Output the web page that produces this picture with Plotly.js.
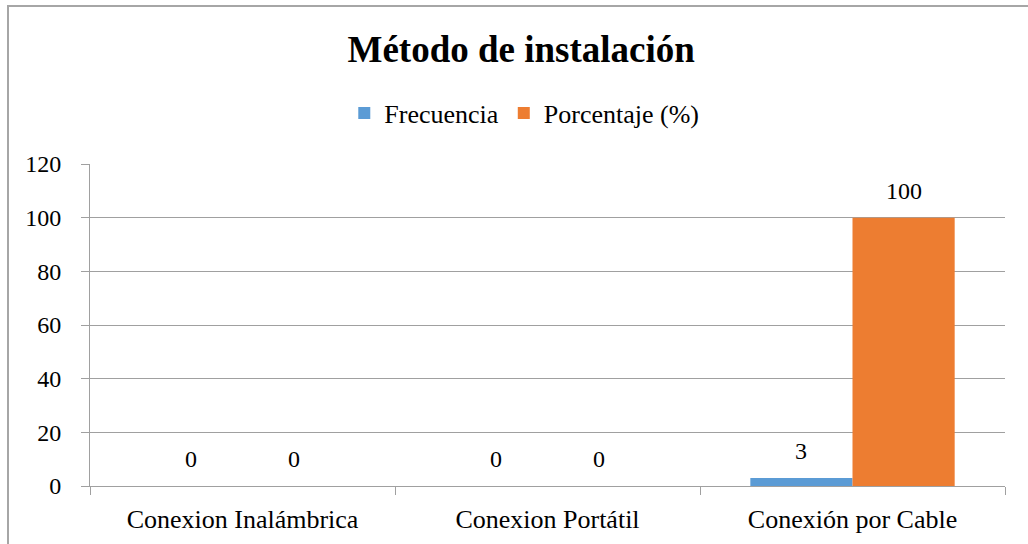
<!DOCTYPE html>
<html>
<head>
<meta charset="utf-8">
<script src="https://cdn.plot.ly/plotly-3.0.1.min.js"></script>
<style>
html,body{margin:0;padding:0;background:#fff;}
#wrap{position:relative;width:1028px;height:544px;overflow:hidden;}
#chart{width:1028px;height:544px;}
#frame{position:absolute;left:7px;top:5px;width:1040px;height:560px;border:2px solid #A6A6A6;pointer-events:none;}
</style>
</head>
<body>
<div id="wrap"><div id="chart"></div><div id="frame"></div></div>
<script>
const categories = ["Conexion Inalámbrica", "Conexion Portátil", "Conexión por Cable"];
const frecuencia = [0, 0, 3];
const porcentaje = [0, 0, 100];
const seriesNames = ["Frecuencia", "Porcentaje (%)"];
const yTicks = [0, 20, 40, 60, 80, 100, 120];

const font = "'Liberation Serif', 'Times New Roman', Times, serif";
const colors = ["#5B9BD5", "#ED7D31"];
const W = 1028, H = 544;
const margin = {l: 90, r: 23, t: 164, b: 58};
const bargap = 0.33;
const plotW = W - margin.l - margin.r;
const barW = plotW / categories.length * (1 - bargap) / 2;

const series = [frecuencia, porcentaje];
const traces = series.map((vals, i) => ({
  type: "bar",
  name: seriesNames[i],
  x: categories,
  y: vals,
  marker: {color: colors[i]},
  hoverinfo: "x+y"
}));

const annotations = [];
series.forEach((vals, i) => {
  vals.forEach((v, j) => {
    annotations.push({
      x: categories[j], y: v, xref: "x", yref: "y",
      text: String(v), showarrow: false,
      yanchor: "bottom", yshift: 12,
      xshift: (i === 0 ? -1 : 1) * barW / 2,
      font: {family: font, size: 24, color: "#000"}
    });
  });
});

const layout = {
  width: W, height: H,
  margin: margin,
  paper_bgcolor: "#fff", plot_bgcolor: "#fff",
  font: {family: font, color: "#000"},
  title: {
    text: "<b>Método de instalación</b>",
    font: {family: font, size: 37, color: "#000"},
    xref: "container", x: 0.507, xanchor: "center",
    yref: "container", y: 1 - 49 / H, yanchor: "middle"
  },
  showlegend: true,
  legend: {
    orientation: "h",
    xref: "container", yref: "container",
    x: 0.51, xanchor: "center",
    y: 1 - 113 / H, yanchor: "middle",
    font: {family: font, size: 26, color: "#000"},
    itemwidth: 30,
    traceorder: "normal"
  },
  barmode: "group",
  bargap: bargap,
  bargroupgap: 0,
  xaxis: {
    type: "category",
    tickson: "boundaries",
    ticks: "outside", ticklen: 8, tickcolor: "#A0A0A0", tickwidth: 1,
    showline: true, linecolor: "#A0A0A0", linewidth: 1,
    showgrid: false,
    ticklabelstandoff: 10,
    tickfont: {family: font, size: 26, color: "#000"},
    fixedrange: true
  },
  yaxis: {
    range: [0, 120],
    tickvals: yTicks,
    ticktext: yTicks.map(String),
    ticks: "outside", ticklen: 8, tickcolor: "#A0A0A0", tickwidth: 1,
    showline: true, linecolor: "#A0A0A0", linewidth: 1,
    showgrid: true, gridcolor: "#A0A0A0", gridwidth: 1,
    zeroline: false,
    ticklabelstandoff: 15,
    tickfont: {family: font, size: 24, color: "#000"},
    fixedrange: true
  },
  annotations: annotations
};

Plotly.newPlot("chart", traces, layout, {displayModeBar: false, staticPlot: true});
</script>
</body>
</html>
